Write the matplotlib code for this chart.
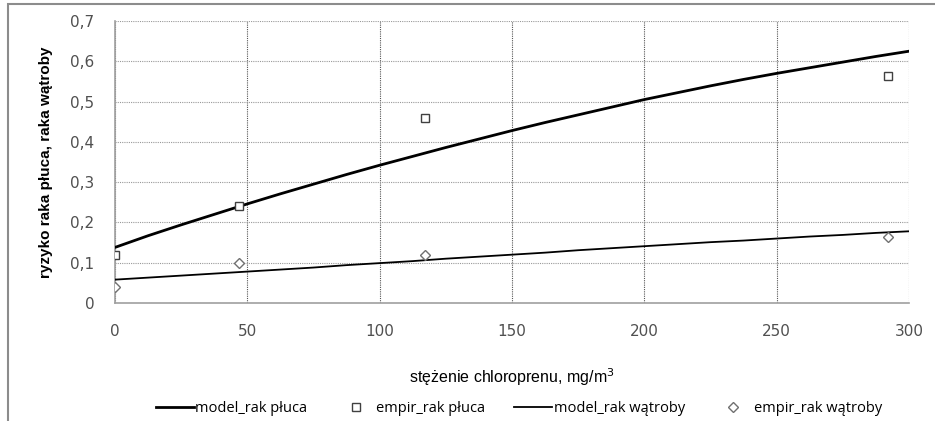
import matplotlib.pyplot as plt
from matplotlib.patches import Rectangle
from matplotlib.ticker import FuncFormatter

# model curves
x_model = [0, 12.5, 25, 37.5, 50, 62.5, 75, 87.5, 100, 112.5, 125, 137.5, 150, 162.5, 175,
           187.5, 200, 212.5, 225, 237.5, 250, 262.5, 275, 287.5, 300]
model_pluca = [0.138, 0.167, 0.194, 0.220, 0.246, 0.271, 0.295, 0.319, 0.342, 0.364, 0.386,
               0.407, 0.428, 0.448, 0.467, 0.486, 0.505, 0.522, 0.539, 0.555, 0.570, 0.584,
               0.598, 0.612, 0.625]
model_watroby = [0.058, 0.063, 0.068, 0.073, 0.078, 0.083, 0.088, 0.094, 0.099, 0.104, 0.110,
                 0.115, 0.120, 0.125, 0.131, 0.136, 0.141, 0.146, 0.151, 0.155, 0.160, 0.165,
                 0.169, 0.174, 0.178]

# empirical points
x_emp = [0, 47, 117, 292]
emp_pluca = [0.12, 0.24, 0.46, 0.563]
emp_watroby = [0.04, 0.10, 0.12, 0.164]

x_ticks = [0, 50, 100, 150, 200, 250, 300]
y_ticks = [0, 0.1, 0.2, 0.3, 0.4, 0.5, 0.6, 0.7]

fig = plt.figure(figsize=(9.35, 4.21), dpi=100)
ax = fig.add_axes([115 / 935, 118 / 421, 794 / 935, 282 / 421])

# outer chart frame
fig.patches.append(Rectangle((8 / 935, -0.1), 1.2, (421 - 4) / 421 + 0.1,
                             transform=fig.transFigure, fill=False,
                             edgecolor='#8c8c8c', lw=1.5, zorder=0))

ax.plot(x_model, model_pluca, color='black', lw=2.0, label='model_rak płuca', zorder=3)
ax.plot(x_emp, emp_pluca, ls='none', marker='s', ms=6, mfc='white', mec='#404040',
        mew=1.0, label='empir_rak płuca', zorder=4)
ax.plot(x_model, model_watroby, color='black', lw=1.3, label='model_rak wątroby', zorder=3)
ax.plot(x_emp, emp_watroby, ls='none', marker='D', ms=5, mfc='white', mec='#707070',
        mew=1.0, label='empir_rak wątroby', zorder=4)

ax.set_xlim(0, 300)
ax.set_ylim(0, 0.7)
ax.set_xticks(x_ticks)
ax.set_yticks(y_ticks)
ax.yaxis.set_major_formatter(FuncFormatter(lambda v, p: '0' if v == 0 else f'{v:.1f}'.replace('.', ',')))

ax.xaxis.grid(True, color='#555555', ls=(0, (1, 1)), lw=0.8)
ax.yaxis.grid(True, color='#999999', ls=(0, (1, 1)), lw=0.8)
ax.set_axisbelow(True)

for s in ['top', 'right']:
    ax.spines[s].set_visible(False)
for s in ['left', 'bottom']:
    ax.spines[s].set_color('#a0a0a0')
    ax.spines[s].set_linewidth(1.2)

ax.tick_params(length=0, labelsize=11, colors='#505050', pad=15)
ax.tick_params(axis='x', pad=15)
for lbl in ax.get_xticklabels() + ax.get_yticklabels():
    lbl.set_family(['Verdana', 'DejaVu Sans'])

ax.set_xlabel('stężenie chloroprenu, mg/m$^3$', family='Liberation Sans', fontsize=11.5,
              labelpad=20)
ax.set_ylabel('ryzyko raka płuca, raka wątroby', family=['Liberation Sans Narrow', 'Liberation Sans'],
              fontweight='bold', fontsize=11, labelpad=12)

fig.legend(loc='center', bbox_to_anchor=(0.555, 0.03), ncol=4, frameon=False,
           prop={'family': 'Open Sans', 'size': 10.5}, handlelength=2.6,
           handletextpad=0.1, columnspacing=2.0)

fig.savefig('out.png', dpi=100)
